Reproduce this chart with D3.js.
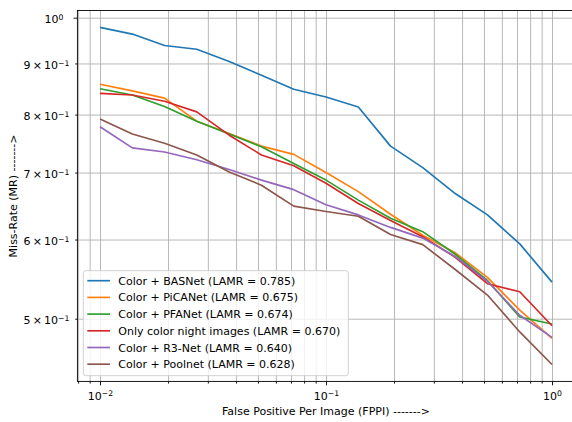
<!DOCTYPE html>
<html>
<head>
<meta charset="utf-8">
<script src="https://cdn.jsdelivr.net/npm/d3@7"></script>
<style>
  body { margin: 0; background: #fff; }
  text { font-family: "DejaVu Sans", sans-serif; fill: #000; }
</style>
</head>
<body>
<svg id="chart" width="572" height="422"></svg>
<script>
// Data
const fppi = [0.01, 0.0139, 0.0193, 0.0268, 0.0373, 0.0518, 0.072, 0.1, 0.139, 0.193, 0.268, 0.373, 0.518, 0.72, 1.0];

const basnet = [0.978, 0.963, 0.938, 0.930, 0.904, 0.876, 0.848, 0.833, 0.814, 0.744, 0.708, 0.667, 0.635, 0.594, 0.544];
const picanet = [0.858, 0.845, 0.831, 0.788, 0.766, 0.744, 0.730, 0.700, 0.670, 0.636, 0.606, 0.582, 0.550, 0.510, 0.478];
const pfanet = [0.849, 0.837, 0.815, 0.788, 0.765, 0.743, 0.715, 0.688, 0.657, 0.630, 0.611, 0.580, 0.546, 0.502, 0.494];
const night_only = [0.840, 0.837, 0.825, 0.805, 0.763, 0.729, 0.711, 0.683, 0.652, 0.627, 0.604, 0.576, 0.542, 0.532, 0.492];
const r3net = [0.778, 0.741, 0.734, 0.721, 0.705, 0.688, 0.673, 0.650, 0.635, 0.617, 0.602, 0.577, 0.545, 0.504, 0.479];
const poolnet = [0.792, 0.765, 0.749, 0.729, 0.701, 0.680, 0.648, 0.640, 0.633, 0.607, 0.593, 0.560, 0.528, 0.485, 0.450];

const series_names = [
  "Color + BASNet (LAMR = 0.785)",
  "Color + PiCANet (LAMR = 0.675)",
  "Color + PFANet (LAMR = 0.674)",
  "Only color night images (LAMR = 0.670)",
  "Color + R3-Net (LAMR = 0.640)",
  "Color + Poolnet (LAMR = 0.628)"
];
const series_values = [basnet, picanet, pfanet, night_only, r3net, poolnet];
const colors = ["#1f77b4", "#ff7f0e", "#2ca02c", "#d62728", "#9467bd", "#8c564b"];

// Ticks
const x_major = [0.01, 0.1, 1];
const x_minor = [0.008, 0.009, 0.02, 0.03, 0.04, 0.05, 0.06, 0.07, 0.08, 0.09,
  0.2, 0.3, 0.4, 0.5, 0.6, 0.7, 0.8, 0.9];
const x_tick_exp = ["\u22122", "\u22121", "0"];
const y_major = [1];
const y_minor = [0.9, 0.8, 0.7, 0.6, 0.5];
const y_minor_base = ["9\u2009\u00d7\u200910", "8\u2009\u00d7\u200910", "7\u2009\u00d7\u200910", "6\u2009\u00d7\u200910", "5\u2009\u00d7\u200910"];
const y_minor_exp = ["\u22121", "\u22121", "\u22121", "\u22121", "\u22121"];

const svg = d3.select("#chart");
const p_left = 77.4, p_right = 574.6, p_top = 10.5, p_bottom = 381.4;
const font_px = 11;

const x = d3.scaleLog().domain([0.007943, 1.2589]).range([p_left, p_right]);
const y = d3.scaleLog().domain([0.4328, 1.0167]).range([p_bottom, p_top]);

// Grid (major + minor)
function add_grid() {
  const grid = svg.append("g").attr("class", "grid");
  grid.append("g")
    .attr("transform", "translate(0," + p_bottom + ")")
    .call(d3.axisBottom(x).tickValues(x_major.concat(x_minor)).tickSize(-(p_bottom - p_top)).tickFormat(""));
  grid.append("g")
    .attr("transform", "translate(" + p_left + ",0)")
    .call(d3.axisLeft(y).tickValues(y_major.concat(y_minor)).tickSize(-(p_right - p_left)).tickFormat(""));
  grid.selectAll(".domain").remove();
  grid.selectAll("line").attr("stroke", "#b0b0b0").attr("stroke-width", 0.9);
}

// Superscript label helper
function sup_label(sel, base, exp) {
  sel.text(null);
  sel.append("tspan").text(base);
  sel.append("tspan").attr("dy", "-0.42em").style("font-size", "7.7px").text(exp);
}

function add_axes() {
  const axes = svg.append("g").attr("class", "axes");

  // x axis
  const gx = axes.append("g").attr("transform", "translate(0," + p_bottom + ")");
  gx.append("g")
    .call(d3.axisBottom(x).tickValues(x_minor).tickSize(2.2).tickFormat(""));
  const gx_major = gx.append("g")
    .call(d3.axisBottom(x).tickValues(x_major).tickSize(3.9).tickPadding(6.5)
      .tickFormat(function (d, i) { return i; }));
  gx_major.selectAll(".tick text").each(function (d, i) {
    sup_label(d3.select(this), "10", x_tick_exp[i]);
  });

  // y axis
  const gy = axes.append("g").attr("transform", "translate(" + p_left + ",0)");
  const gy_minor = gy.append("g")
    .call(d3.axisLeft(y).tickValues(y_minor).tickSize(2.2).tickPadding(5.8)
      .tickFormat(function (d, i) { return i; }));
  gy_minor.selectAll(".tick text").each(function (d, i) {
    sup_label(d3.select(this), y_minor_base[i], y_minor_exp[i]);
  });
  const gy_major = gy.append("g")
    .call(d3.axisLeft(y).tickValues(y_major).tickSize(3.9).tickPadding(10)
      .tickFormat(function (d, i) { return i; }));
  gy_major.selectAll(".tick text").each(function () {
    sup_label(d3.select(this), "10", "0");
  });
  gy.selectAll(".tick text").attr("dy", "0.44em");

  axes.selectAll(".tick text").style("font-size", font_px + "px").attr("fill", "#000");
  axes.selectAll(".tick line").attr("stroke", "#000").attr("stroke-width", 0.9);
  axes.selectAll(".domain").remove();

  // Spines
  axes.append("rect")
    .attr("x", p_left).attr("y", p_top)
    .attr("width", p_right - p_left).attr("height", p_bottom - p_top)
    .attr("fill", "none").attr("stroke", "#000").attr("stroke-width", 0.9);

  // Axis titles
  axes.append("text")
    .attr("x", (p_left + p_right) / 2).attr("y", 415)
    .attr("text-anchor", "middle").style("font-size", font_px + "px")
    .text("False Positive Per Image (FPPI) ------->");
  axes.append("text")
    .attr("transform", "translate(16.5," + (p_top + p_bottom) / 2 + ") rotate(-90)")
    .attr("text-anchor", "middle").style("font-size", font_px + "px")
    .text("Miss-Rate (MR) ------->");
}

// Curves
function add_lines() {
  const line = d3.line()
    .x(function (d, i) { return x(fppi[i]); })
    .y(function (d) { return y(d); });
  svg.append("g").attr("class", "curves")
    .selectAll("path")
    .data(series_values)
    .enter()
    .append("path")
    .attr("d", line)
    .attr("fill", "none")
    .attr("stroke", function (d, i) { return colors[i]; })
    .attr("stroke-width", 1.67)
    .attr("stroke-linejoin", "round");
}

// Legend
function add_legend() {
  const legend = svg.append("g").attr("id", "legend");
  legend.append("rect")
    .attr("x", 83.3).attr("y", 270.7)
    .attr("width", 265).attr("height", 105)
    .attr("rx", 2.5)
    .attr("fill", "#fff").attr("fill-opacity", 0.8)
    .attr("stroke", "#cccccc").attr("stroke-width", 0.9);
  const row_h = 16.7;
  const entry = legend.selectAll("g.legend_entry")
    .data(series_names)
    .enter()
    .append("g")
    .attr("class", "legend_entry")
    .attr("transform", function (d, i) { return "translate(0," + (280.7 + i * row_h) + ")"; });
  entry.append("line")
    .attr("x1", 87.3).attr("x2", 110)
    .attr("stroke", function (d, i) { return colors[i]; })
    .attr("stroke-width", 1.67);
  entry.append("text")
    .attr("x", 118.3).attr("y", 4)
    .style("font-size", font_px + "px")
    .text(function (d) { return d; });
}

add_grid();
add_lines();
add_axes();
add_legend();
</script>
</body>
</html>
